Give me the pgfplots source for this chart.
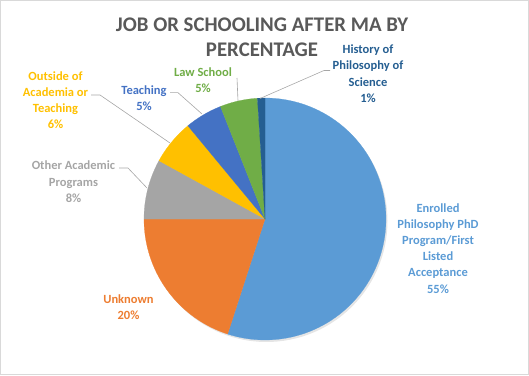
\documentclass[border=0pt]{standalone}
\usepackage{pgfplots}
\pgfplotsset{compat=1.18}
\usepackage{fontspec}
\setmainfont{Carlito}
\definecolor{cEnr}{HTML}{5B9BD5}
\definecolor{cUnk}{HTML}{ED7D31}
\definecolor{cOth}{HTML}{A5A5A5}
\definecolor{cOut}{HTML}{FFC000}
\definecolor{cTea}{HTML}{4472C4}
\definecolor{cLaw}{HTML}{70AD47}
\definecolor{cHis}{HTML}{255E91}
\definecolor{cTitle}{HTML}{595959}
\definecolor{cLead}{HTML}{A6A6A6}
\definecolor{cFrame}{HTML}{D9D9D9}
\newcommand{\cx}{265}
\newcommand{\cy}{156}
\newcommand{\R}{121}
% slice from cumulative percent #1 to #2, clockwise from 12 o'clock
\newcommand{\pieslice}[3]{%
  \addplot[fill=#3, draw=#3, line width=0.2pt, domain={90-3.6*(#2)}:{90-3.6*(#1)}, samples=90, variable=\t]
    ({\cx+\R*cos(\t)},{\cy+\R*sin(\t)}) -- (axis cs:\cx,\cy) -- cycle;}
\tikzset{lbl/.style={align=center, font=\fontsize{12.5}{16.2}\selectfont\bfseries}}
\begin{document}
\begin{tikzpicture}
\begin{axis}[
  width=529pt, height=375pt, scale only axis,
  xmin=0, xmax=529, ymin=0, ymax=375,
  hide axis, clip=false]
% frame
\draw[cFrame, line width=1pt] (axis cs:0.5,0.5) rectangle (axis cs:528.5,374.5);
% shadow
\addplot[fill=black, fill opacity=0.10, draw=none, domain=0:360, samples=120, variable=\t]
  ({\cx+1.5+\R*cos(\t)},{\cy-2+\R*sin(\t)});
% slices: Enrolled 55, Unknown 20, Other 8, Outside 6, Teaching 5, Law 5, History 1
\pieslice{0}{55}{cEnr}
\pieslice{55}{75}{cUnk}
\pieslice{75}{83}{cOth}
\pieslice{83}{89}{cOut}
\pieslice{89}{94}{cTea}
\pieslice{94}{99}{cLaw}
\pieslice{99}{100}{cHis}
% leader lines
\draw[cLead, line width=0.6pt] (axis cs:330,304.5) -- (axis cs:324,304.5) -- (axis cs:260,276.5);
\draw[cLead, line width=0.6pt] (axis cs:237,297) -- (axis cs:238,274);
\draw[cLead, line width=0.6pt] (axis cs:170,282.3) -- (axis cs:178,282.3) -- (axis cs:202,261);
\draw[cLead, line width=0.6pt] (axis cs:91,280) -- (axis cs:100,280) -- (axis cs:170,232);
\draw[cLead, line width=0.6pt] (axis cs:119,207) -- (axis cs:128,207) -- (axis cs:147,187);
% title
\node[align=center, text=cTitle, font=\fontsize{20.8}{25}\selectfont\bfseries] at (axis cs:262,337.5)
  {JOB OR SCHOOLING AFTER MA BY\\PERCENTAGE};
% labels
\node[lbl, text=cHis] at (axis cs:368,301.25) {History of\\Philosophy of\\Science\\1\%};
\node[lbl, text=cLaw] at (axis cs:203,295) {Law School\\5\%};
\node[lbl, text=cTea] at (axis cs:144,277) {Teaching\\5\%};
\node[lbl, text=cOut] at (axis cs:55.5,275) {Outside of\\Academia or\\Teaching\\6\%};
\node[lbl, text=cOth] at (axis cs:73.5,193.3) {Other Academic\\Programs\\8\%};
\node[lbl, text=cUnk] at (axis cs:128.5,68) {Unknown\\20\%};
\node[lbl, text=cEnr] at (axis cs:438,126.7) {Enrolled\\Philosophy PhD\\Program/First\\Listed\\Acceptance\\55\%};
\end{axis}
\end{tikzpicture}
\end{document}
